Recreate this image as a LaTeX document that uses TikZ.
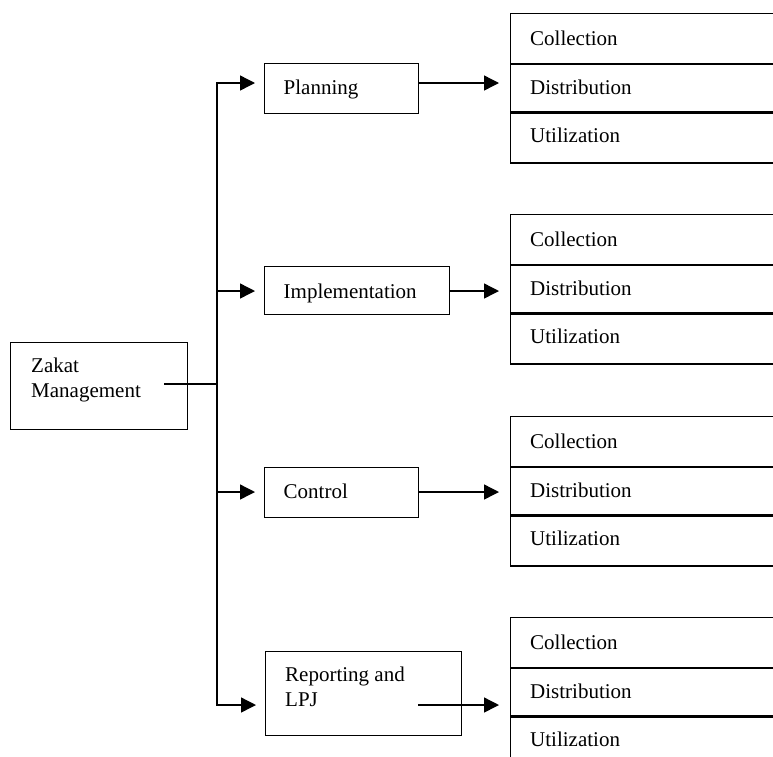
\documentclass[tikz,border=0pt]{standalone}
\usepackage{fontspec}
\setmainfont{Liberation Serif}
\usetikzlibrary{arrows.meta}
\begin{document}
\begin{tikzpicture}[x=1pt,y=-1pt,
  box/.style={draw, line width=1.4pt, anchor=north west, inner sep=0pt},
  txt/.style={anchor=base west, inner sep=0pt, font=\fontsize{21}{24.5}\selectfont, align=left},
  conn/.style={line width=1.4pt},
  arr/.style={conn, -{Triangle[length=15pt,width=15pt]}}
]
\useasboundingbox (0,0) rectangle (773,756);
\clip (0,0) rectangle (773,756);

% root
\node[box, minimum width=177pt, minimum height=87pt] (zak) at (10,342) {};
\node[txt] (zakt) at (31,397) {Zakat\\Management};

% middle boxes
\node[box, minimum width=154pt, minimum height=50pt] (plan) at (264,63) {};
\node[txt] (plant) at (283.5,94) {Planning};
\node[box, minimum width=185pt, minimum height=48pt] (impl) at (264,266) {};
\node[txt] (implt) at (283.5,298) {Implementation};
\node[box, minimum width=154pt, minimum height=50pt] (ctrl) at (264,467) {};
\node[txt] (ctrlt) at (283.5,498) {Control};
\node[box, minimum width=196pt, minimum height=84pt] (rep) at (265,651) {};
\node[txt] (rept) at (285,706) {Reporting and\\LPJ};

% right groups
\foreach \t [count=\i] in {13,214,416,617} {
  \node[box, minimum width=300pt, minimum height=49.5pt] (g\i a) at (510,\t) {};
  \node[box, minimum width=300pt, minimum height=47.5pt] (g\i b) at (g\i a.south west) {};
  \node[box, minimum width=300pt, minimum height=49.5pt] (g\i c) at (g\i b.south west) {};
  \node[txt] (g\i at) at (530,{\t+32}) {Collection};
  \node[txt] (g\i bt) at (530,{\t+81}) {Distribution};
  \node[txt] (g\i ct) at (530,{\t+129}) {Utilization};
}

% connectors
\coordinate (z0) at (164,384);
\coordinate (j) at (217,384);
\coordinate (t1) at (217,83);
\coordinate (t2) at (217,291);
\coordinate (t3) at (217,492);
\coordinate (t4) at (217,705);
\coordinate (r4) at (418,705);

\draw[conn] (z0) -- (j);
\draw[arr] (j) -- (t1) -- ([xshift=-9pt] t1 -| plan.west);
\draw[arr] (j) -- (t4) -- ([xshift=-9pt] t4 -| rep.west);
\draw[arr] (t2) -- ([xshift=-9pt] t2 -| impl.west);
\draw[arr] (t3) -- ([xshift=-9pt] t3 -| ctrl.west);

\draw[arr] (plan.east |- t1) -- ([xshift=-11pt] t1 -| g1a.west);
\draw[arr] (impl.east |- t2) -- ([xshift=-11pt] t2 -| g2a.west);
\draw[arr] (ctrl.east |- t3) -- ([xshift=-11pt] t3 -| g3a.west);
\draw[arr] (r4) -- ([xshift=-11pt] t4 -| g4a.west);
\end{tikzpicture}
\end{document}
